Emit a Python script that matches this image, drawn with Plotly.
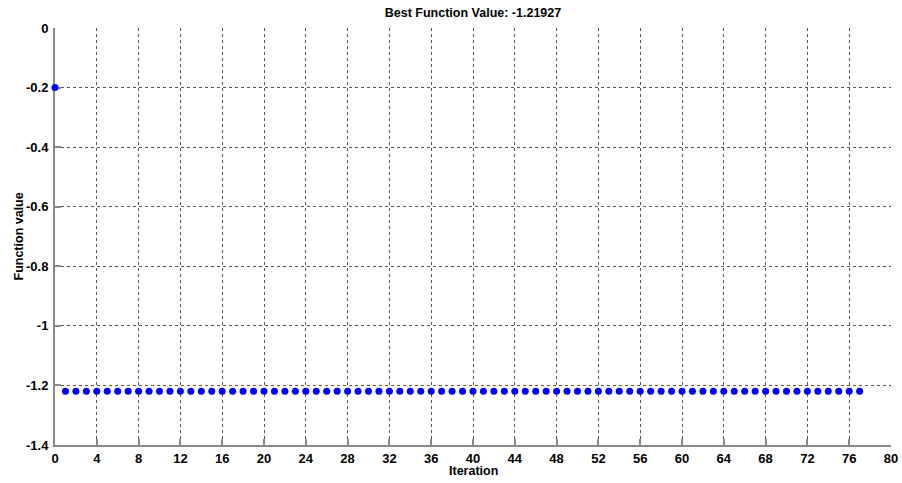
import plotly.graph_objects as go

iterations = list(range(0, 78))
best_values = [-0.2] + [-1.21927] * 77
x_ticks = list(range(0, 81, 4))
y_ticks = [0, -0.2, -0.4, -0.6, -0.8, -1, -1.2, -1.4]
y_tick_labels = ["0", "-0.2", "-0.4", "-0.6", "-0.8", "-1", "-1.2", "-1.4"]

FONT = "Liberation Sans, Arial, sans-serif"

fig = go.Figure()
fig.add_trace(go.Scatter(
    x=iterations, y=best_values, mode="markers",
    marker=dict(color="#0000ff", size=7, line=dict(width=0)),
    cliponaxis=False, showlegend=False,
))

axis_common = dict(
    showgrid=True, gridcolor="#555555", griddash="dot", gridwidth=1,
    showline=True, linecolor="#888888", linewidth=2,
    ticks="inside", ticklen=6, tickcolor="#888888", tickwidth=2,
    zeroline=False, automargin=False, layer="below traces",
    tickfont=dict(family=FONT, size=13, color="black", weight="bold"),
)

fig.update_layout(
    width=902, height=483,
    margin=dict(l=55, r=11, t=28, b=38, autoexpand=False),
    paper_bgcolor="white", plot_bgcolor="white",
    font=dict(family=FONT, size=12, color="black"),
    title=dict(text="<b>Best Function Value: -1.21927</b>", xref="paper", x=0.5, xanchor="center",
               y=1 - 13 / 483, yanchor="middle", font=dict(size=12.5)),
    xaxis=dict(range=[0, 80], tickvals=x_ticks, ticktext=[str(v) for v in x_ticks],
               ticklabelstandoff=0, **axis_common),
    yaxis=dict(range=[-1.4, 0], tickvals=y_ticks, ticktext=y_tick_labels,
               ticklabelstandoff=2, **axis_common),
    annotations=[
        dict(text="<b>Iteration</b>", xref="paper", yref="paper", x=0.5, y=-(471 - 445) / 417,
             xanchor="center", yanchor="middle", showarrow=False, font=dict(size=12.5)),
        dict(text="<b>Function value</b>", xref="paper", yref="paper", x=-(55 - 18) / 836,
             y=0.5, xanchor="center", yanchor="middle", textangle=-90, showarrow=False,
             font=dict(size=12.5)),
    ],
)

fig.write_html("out.html", config={"displayModeBar": False},
               post_script="document.body.style.margin='0';document.body.style.overflow='hidden';")
